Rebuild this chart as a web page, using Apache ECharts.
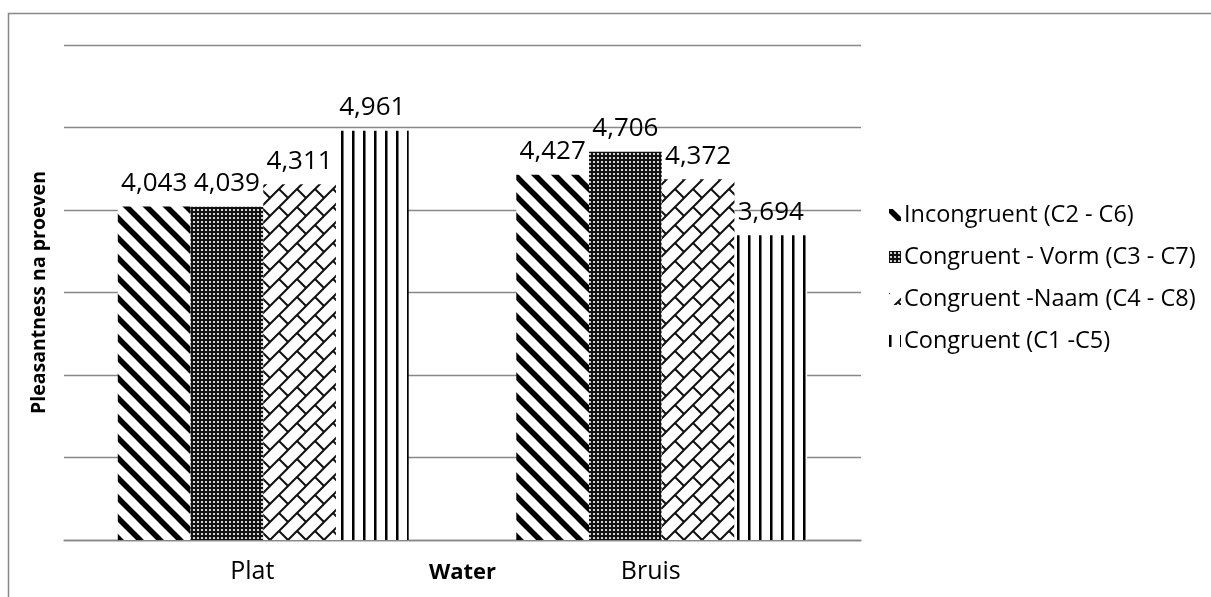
<!DOCTYPE html>
<html><head><meta charset="utf-8">
<script src="https://cdn.jsdelivr.net/npm/echarts@6/dist/echarts.min.js"></script>
<style>html,body{margin:0;padding:0;background:#fff}#c{width:1211px;height:597px}</style>
</head><body><div id="c"></div>
<script>
const categories = ['Plat', 'Bruis'];
const seriesNames = ['Incongruent (C2 - C6)', 'Congruent - Vorm (C3 - C7)', 'Congruent -Naam (C4 - C8)', 'Congruent (C1 -C5)'];
const incongruent = [4.043, 4.427];
const congruentVorm = [4.039, 4.706];
const congruentNaam = [4.311, 4.372];
const congruent = [4.961, 3.694];
const yMin = 0, yMax = 6, yStep = 1;
const xAxisName = 'Water';
const yAxisName = 'Pleasantness na proeven';

function mk(w, h, draw) {
  const c = document.createElement('canvas');
  c.width = w; c.height = h;
  const g = c.getContext('2d');
  g.fillStyle = '#fff'; g.fillRect(0, 0, w, h);
  draw(g);
  return c;
}
const diagPat = mk(20, 20, g => {
  g.strokeStyle = '#000'; g.lineWidth = 5.5;
  for (let k = -1; k <= 1; k++) {
    g.beginPath(); g.moveTo(k * 20 - 5, -5); g.lineTo(k * 20 + 25, 25); g.stroke();
  }
});
const dotPat = mk(4, 4, g => {
  g.fillStyle = '#111'; g.fillRect(0, 0, 4, 4);
  g.fillStyle = '#fff'; g.beginPath(); g.arc(2, 2, 1.1, 0, Math.PI * 2); g.fill();
});
const brickPat = mk(18, 18, g => {
  g.strokeStyle = '#111'; g.lineWidth = 2;
  [[-2, 20, 20, -2], [16, 20, 20, 16], [-2, 2, 2, -2]].forEach(s => {
    g.beginPath(); g.moveTo(s[0], s[1]); g.lineTo(s[2], s[3]); g.stroke();
  });
  g.beginPath(); g.moveTo(9, 9); g.lineTo(18, 18); g.stroke();
});
const vertPat = mk(11, 4, g => {
  g.fillStyle = '#000'; g.fillRect(0, 0, 2, 4);
  g.fillStyle = '#777'; g.fillRect(2, 0, 1, 4);
});
const pats = [diagPat, dotPat, brickPat, vertPat];
const values = [incongruent, congruentVorm, congruentNaam, congruent];
const FONT = 'Open Sans';

const chart = echarts.init(document.getElementById('c'), null, { renderer: 'canvas' });
chart.setOption({
  animation: false,
  backgroundColor: '#fff',
  textStyle: { fontFamily: FONT, color: '#000' },
  graphic: [{
    type: 'rect', silent: true, z: -10,
    shape: { x: 8.5, y: 13.5, width: 1400, height: 800 },
    style: { fill: 'none', stroke: '#888', lineWidth: 1.5 }
  }],
  grid: { left: 64, right: 350, top: 45, bottom: 57, containLabel: false, outerBoundsMode: 'none' },
  legend: {
    orient: 'vertical', left: 884, top: 198,
    itemWidth: 12, itemHeight: 12, itemGap: 18,
    icon: 'rect',
    textStyle: { fontFamily: FONT, fontSize: 23.5, lineHeight: 22, color: '#000', padding: [0, 0, 0, -2] },
    data: seriesNames
  },
  xAxis: {
    type: 'category', data: categories,
    name: xAxisName, nameLocation: 'middle', nameGap: 22, nameMoveOverlap: false,
    nameTextStyle: { fontFamily: FONT, fontWeight: 'bold', fontSize: 22, color: '#000' },
    axisLine: { show: true, lineStyle: { color: '#888', width: 1.3 } },
    axisTick: { show: false },
    axisLabel: { fontFamily: FONT, fontSize: 25, color: '#000', margin: 19, padding: [0, 22, 0, 0] }
  },
  yAxis: {
    type: 'value', min: yMin, max: yMax, interval: yStep,
    name: yAxisName, nameLocation: 'middle', nameGap: 15, nameRotate: 90,
    nameTextStyle: { fontFamily: FONT, fontWeight: 'bold', fontSize: 19.5, color: '#000' },
    axisLine: { show: false }, axisTick: { show: false },
    axisLabel: { show: false },
    splitLine: { show: true, lineStyle: { color: '#888', width: 1.3 } }
  },
  series: seriesNames.map((n, i) => ({
    type: 'bar', name: n, data: values[i],
    barGap: '0%', barCategoryGap: '27%',
    itemStyle: { color: { image: pats[i], repeat: 'repeat' } },
    label: {
      show: true, position: 'top', distance: 10,
      fontFamily: FONT, fontSize: 26, color: '#000',
      formatter: p => p.value.toFixed(3).replace('.', ',')
    }
  }))
});
</script></body></html>
